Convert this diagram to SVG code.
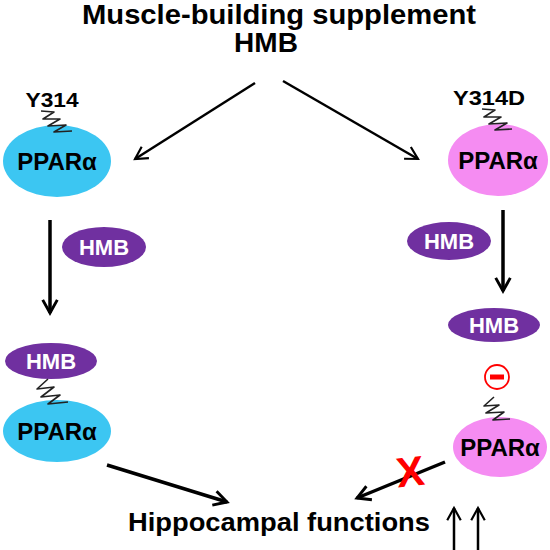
<svg xmlns="http://www.w3.org/2000/svg" width="550" height="550" viewBox="0 0 550 550">
<defs>
<style>
text{font-family:"Liberation Sans",Arial,sans-serif;font-weight:bold}
.lbl{font-size:24px;fill:#000;text-anchor:middle}
.hmb{font-size:22px;fill:#fff;text-anchor:middle}
.cyan{fill:#3cc6f2}
.pink{fill:#f58cf2}
.purple{fill:#7030a0}
.sq{fill:none;stroke:#222;stroke-width:1.6;stroke-linejoin:round}
.conn{stroke:#000;stroke-width:3.5;fill:none}
.thin{stroke:#000;stroke-width:2.5;fill:none}
</style>
<marker id="ah" viewBox="0 0 12 12" refX="10" refY="6" markerWidth="5" markerHeight="5" orient="auto" markerUnits="strokeWidth">
<path d="M1,1 L10,6 L1,11" fill="none" stroke="#000" stroke-width="2"/>
</marker>
<marker id="ah2" viewBox="0 0 12 12" refX="10" refY="6" markerWidth="6.5" markerHeight="6.5" orient="auto" markerUnits="strokeWidth">
<path d="M1,1 L10,6 L1,11" fill="none" stroke="#000" stroke-width="1.6"/>
</marker>
</defs>
<rect width="550" height="550" fill="#fff"/>

<g id="title">
<text x="279" y="24" font-size="27" text-anchor="middle" textLength="394" lengthAdjust="spacingAndGlyphs">Muscle-building supplement</text>
<text x="266" y="52" font-size="28" text-anchor="middle">HMB</text>
</g>

<g id="ppar-y314">
<text x="52" y="107" font-size="21" text-anchor="middle" textLength="53" lengthAdjust="spacingAndGlyphs">Y314</text>
<ellipse class="cyan" cx="57" cy="161" rx="54" ry="36"/>
<polyline class="sq" points="41,111 54,112 43,119 60,119 48,126 66,125 54,132 72,131"/>
<text class="lbl" x="57" y="170">PPARα</text>
</g>

<g id="ppar-y314d">
<text x="489" y="105" font-size="21" text-anchor="middle" textLength="72" lengthAdjust="spacingAndGlyphs">Y314D</text>
<ellipse class="pink" cx="498" cy="160" rx="50" ry="36"/>
<polyline class="sq" points="482,109 495,110 484,117 501,117 489,124 507,123 495,130 512,129"/>
<text class="lbl" x="498" y="169">PPARα</text>
</g>

<g id="hmb-left">
<ellipse class="purple" cx="104" cy="247" rx="42" ry="20"/>
<text class="hmb" x="104" y="255">HMB</text>
</g>

<g id="hmb-right">
<ellipse class="purple" cx="449" cy="241" rx="42" ry="19"/>
<text class="hmb" x="449" y="249">HMB</text>
</g>

<g id="complex-left">
<ellipse class="purple" cx="51" cy="361" rx="46" ry="18"/>
<text class="hmb" x="51" y="369">HMB</text>
<ellipse class="cyan" cx="57" cy="431" rx="54" ry="31"/>
<polyline class="sq" points="48,379 37,389 54,387 41,397 60,395 48,404 68,402"/>
<text class="lbl" x="57" y="440">PPARα</text>
</g>

<g id="hmb-right-bottom">
<ellipse class="purple" cx="494" cy="325" rx="46" ry="17"/>
<text class="hmb" x="494" y="333">HMB</text>
</g>

<g id="inhibit">
<circle cx="497" cy="377" r="12" fill="#fff" stroke="#ff0000" stroke-width="1.8"/>
<rect x="490" y="374.5" width="14" height="5" fill="#ff0000"/>
</g>

<g id="ppar-right-bottom">
<ellipse class="pink" cx="500" cy="447" rx="47" ry="30"/>
<polyline class="sq" points="494,397 484,406 499,405 486,413 504,412 493,420 510,419"/>
<text class="lbl" x="500" y="456">PPARα</text>
</g>

<g id="connectors">
<line class="thin" x1="255" y1="83" x2="135" y2="159" marker-end="url(#ah2)"/>
<line class="thin" x1="283" y1="81" x2="418" y2="159" marker-end="url(#ah2)"/>
<line class="conn" x1="50" y1="220" x2="50" y2="313" marker-end="url(#ah)"/>
<line class="conn" x1="503" y1="210" x2="503" y2="291" marker-end="url(#ah)"/>
<line class="conn" x1="107" y1="465" x2="227" y2="502" marker-end="url(#ah)"/>
<line class="conn" x1="445" y1="462" x2="357" y2="498" marker-end="url(#ah)"/>
</g>

<g id="block">
<text x="410" y="486" font-size="42" fill="#ff0000" text-anchor="middle" transform="rotate(-6 410 470)">X</text>
</g>

<g id="outcome">
<text x="279" y="531" font-size="25" text-anchor="middle" textLength="302" lengthAdjust="spacingAndGlyphs">Hippocampal functions</text>
<line class="thin" x1="454" y1="550" x2="454" y2="508" marker-end="url(#ah2)"/>
<line class="thin" x1="478" y1="550" x2="478" y2="508" marker-end="url(#ah2)"/>
</g>
</svg>
